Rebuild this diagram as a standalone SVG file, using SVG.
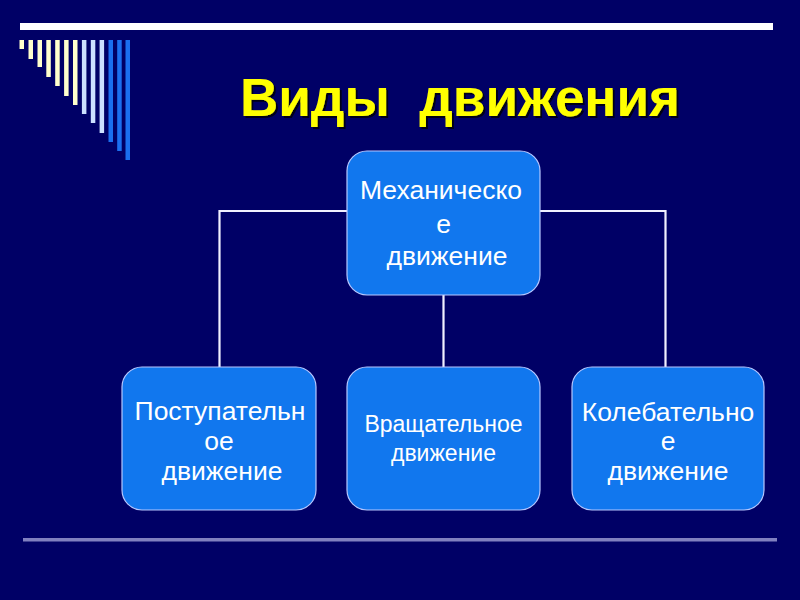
<svg xmlns="http://www.w3.org/2000/svg" width="800" height="600" viewBox="0 0 800 600">
<defs>
<filter id="sh" x="-5%" y="-20%" width="110%" height="140%">
<feDropShadow dx="2" dy="2" stdDeviation="0.6" flood-color="#000010" flood-opacity="0.9"/>
</filter>
</defs>
<style>
.box{fill:#1177EE;stroke:#B8C8FF;stroke-width:1.2}
.t{font-family:"Liberation Sans",Arial,sans-serif;fill:#FFFFFF;text-anchor:middle}
.big{font-size:26.5px}
.mid{font-size:23px}
.con{stroke:#F0F0FF;stroke-width:2.2;fill:none}
.cream{fill:#FFFFCC}
.lb{fill:#CCE0FF}
.bl{fill:#1A6FF0}
</style>
<rect x="0" y="0" width="800" height="600" fill="#000066"/>
<g id="decor">
<rect x="20" y="23" width="753" height="7" fill="#FFFFFF"/>
<rect class="cream" x="19.5" y="40" width="4.5" height="9"/>
<rect class="cream" x="28.5" y="40" width="4.5" height="19"/>
<rect class="cream" x="37.5" y="40" width="4.5" height="27"/>
<rect class="cream" x="46.3" y="40" width="4.5" height="37"/>
<rect class="cream" x="55.2" y="40" width="4.5" height="46"/>
<rect class="cream" x="64.1" y="40" width="4.5" height="56"/>
<rect class="cream" x="73" y="40" width="4.5" height="65"/>
<rect class="lb" x="81.9" y="40" width="4.5" height="74"/>
<rect class="lb" x="90.8" y="40" width="4.5" height="83"/>
<rect class="lb" x="99.6" y="40" width="4.5" height="93"/>
<rect class="bl" x="108.5" y="40" width="4.5" height="102"/>
<rect class="bl" x="117.2" y="40" width="4.5" height="111"/>
<rect class="bl" x="125.5" y="40" width="4.5" height="120"/>
<rect x="23" y="538" width="754" height="3.5" fill="#8080C0"/>
</g>
<g id="title">
<text x="240" y="116" fill="#FFFF00" filter="url(#sh)" font-family="'Liberation Sans',Arial,sans-serif" font-weight="bold" font-size="53" style="white-space:pre">Виды  движения</text>
</g>
<g id="connectors">
<polyline class="con" points="219.5,367 219.5,211 665.5,211 665.5,367"/>
<line class="con" x1="443.5" y1="295" x2="443.5" y2="367"/>
</g>
<g id="node-mech">
<rect class="box" x="347" y="151" width="193" height="144" rx="20"/>
<text class="t big" x="441" y="199">Механическо</text>
<text class="t big" x="443.5" y="233">е</text>
<text class="t big" x="447" y="265">движение</text>
</g>
<g id="node-post">
<rect class="box" x="122" y="367" width="194" height="143" rx="20"/>
<text class="t big" x="220" y="420">Поступательн</text>
<text class="t big" x="219" y="450">ое</text>
<text class="t big" x="222" y="480">движение</text>
</g>
<g id="node-vrash">
<rect class="box" x="347" y="367" width="193" height="143" rx="20"/>
<text class="t mid" x="443.5" y="432">Вращательное</text>
<text class="t mid" x="443.5" y="461">движение</text>
</g>
<g id="node-kol">
<rect class="box" x="572" y="367" width="192" height="143" rx="20"/>
<text class="t big" x="668" y="421">Колебательно</text>
<text class="t big" x="668" y="450">е</text>
<text class="t big" x="668" y="480">движение</text>
</g>
</svg>
